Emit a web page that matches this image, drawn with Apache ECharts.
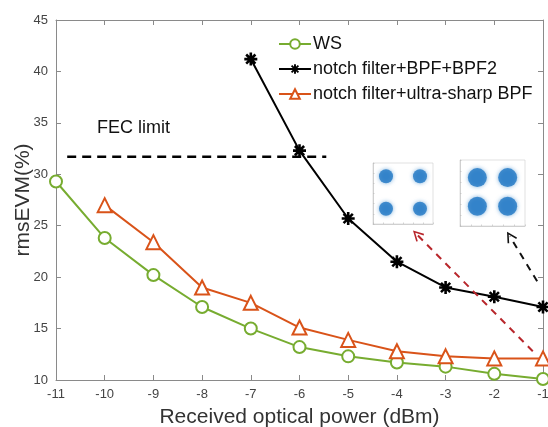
<!DOCTYPE html>
<html>
<head>
<meta charset="utf-8">
<script src="https://cdn.jsdelivr.net/npm/echarts@6/dist/echarts.min.js"></script>
<style>
  html, body { margin: 0; padding: 0; background: #fff; }
  #chart { width: 548px; height: 427px; }
</style>
</head>
<body>
<div id="chart"></div>
<script>
// Received optical power (dBm)
const powerWS = [-11, -10, -9, -8, -7, -6, -5, -4, -3, -2, -1];
const evmWS = [29.3, 23.8, 20.2, 17.1, 15.0, 13.2, 12.3, 11.7, 11.3, 10.6, 10.1];

const powerNotch = [-7, -6, -5, -4, -3, -2, -1];
const evmNotch = [41.2, 32.3, 25.7, 21.5, 19.0, 18.1, 17.1];

const powerSharp = [-10, -9, -8, -7, -6, -5, -4, -3, -2, -1];
const evmSharp = [27.0, 23.4, 19.0, 17.5, 15.1, 13.9, 12.8, 12.3, 12.1, 12.1];

const seriesNames = ['WS', 'notch filter+BPF+BPF2', 'notch filter+ultra-sharp BPF'];

// FEC threshold and the span over which it is drawn
const fecLimit = 31.7;
const fecSpan = [-10.77, -5.45];

// arrows pointing from the -1 dBm points to their constellations
const arrowRed = [[-1.21, 12.8], [-3.59, 24.15]];
const arrowBlack = [[-1.12, 19.6], [-1.68, 23.96]];

// constellation symbols (normalised I/Q)
const constA = [[-0.85, 0.85], [0.85, 0.85], [-0.85, -0.75], [0.85, -0.75]];
const constB = [[-0.7, 0.7], [0.7, 0.7], [-0.7, -0.6], [0.7, -0.6]];

const pair = (xs, ys) => xs.map((x, i) => [x, ys[i]]);

const FONT = 'Liberation Sans, Arial, sans-serif';
const AXIS_COLOR = '#8a8a8a';
const GREEN = '#77AC30';
const ORANGE = '#D95319';

const asterisk = 'path://M-100,-20 L100,-20 L100,20 L-100,20 Z ' +
  'M-20,-100 L20,-100 L20,100 L-20,100 Z ' +
  'M-85,-57 L-57,-85 L85,57 L57,85 Z ' +
  'M57,-85 L85,-57 L-57,85 L-85,57 Z';
const chevron = 'path://M0,0 L12,22 L9,24 L0,7 L-9,24 L-12,22 Z';

const mainAxisCommon = {
  axisLine: { show: true, lineStyle: { color: AXIS_COLOR, width: 1 } },
  axisTick: { show: true, inside: true, length: 5, lineStyle: { color: AXIS_COLOR } },
  splitLine: { show: false }
};

const insetAxis = (gi) => ({
  gridIndex: gi, min: -1.5, max: 1.5, interval: 0.5,
  axisLine: { show: true, onZero: false, lineStyle: { color: '#bbb', width: 0.6 } },
  axisTick: { show: true, inside: true, length: 1.5, lineStyle: { color: '#bbb', width: 0.6 } },
  axisLabel: { show: false }, splitLine: { show: false }
});

const chart = echarts.init(document.getElementById('chart'), null, { renderer: 'canvas' });

chart.setOption({
  backgroundColor: '#fff',
  animation: false,
  grid: [
    { left: 56, right: 5, top: 20, bottom: 47, outerBoundsMode: 'none', containLabel: false },
    { left: 373, top: 163, width: 60, height: 61, show: true, borderColor: '#ccc', borderWidth: 0.6, backgroundColor: '#fff', outerBoundsMode: 'none' },
    { left: 460, top: 160, width: 65, height: 66, show: true, borderColor: '#ccc', borderWidth: 0.6, backgroundColor: '#fff', outerBoundsMode: 'none' }
  ],
  legend: {
    orient: 'vertical',
    left: 273, top: 30,
    itemWidth: 32, itemHeight: 12, itemGap: 7,
    data: seriesNames,
    textStyle: { fontFamily: FONT, fontSize: 18, color: '#111', padding: [0, 0, 0, -3] }
  },
  xAxis: [
    Object.assign({
      type: 'value', gridIndex: 0, min: -11, max: -1, interval: 1, position: 'bottom',
      name: 'Received optical power (dBm)', nameLocation: 'middle', nameGap: 27,
      nameMoveOverlap: false,
      nameTextStyle: { fontFamily: FONT, fontSize: 21, color: '#333' },
      axisLabel: { fontFamily: FONT, fontSize: 13, color: '#444', margin: 8 }
    }, mainAxisCommon),
    Object.assign({
      type: 'value', gridIndex: 0, min: -11, max: -1, interval: 1, position: 'top',
      axisLabel: { show: false }
    }, mainAxisCommon),
    insetAxis(1), insetAxis(2)
  ],
  yAxis: [
    Object.assign({
      type: 'value', gridIndex: 0, min: 10, max: 45, interval: 5, position: 'left',
      name: 'rmsEVM(%)', nameLocation: 'middle', nameGap: 22,
      nameMoveOverlap: false,
      nameTextStyle: { fontFamily: FONT, fontSize: 21, color: '#333' },
      axisLabel: { fontFamily: FONT, fontSize: 13, color: '#444', margin: 8 }
    }, mainAxisCommon),
    Object.assign({
      type: 'value', gridIndex: 0, min: 10, max: 45, interval: 5, position: 'right',
      axisLabel: { show: false }
    }, mainAxisCommon),
    insetAxis(1), insetAxis(2)
  ],
  graphic: [
    {
      type: 'text', left: 97, top: 119,
      style: { text: 'FEC limit', font: '18px ' + FONT, fill: '#111' }
    }
  ],
  series: [
    {
      name: 'FEC', type: 'line', xAxisIndex: 0, yAxisIndex: 0,
      data: fecSpan.map(x => [x, fecLimit]),
      showSymbol: false, silent: true,
      lineStyle: { color: '#000', width: 2.5, type: [9, 6] }
    },
    {
      name: seriesNames[0], type: 'line', xAxisIndex: 0, yAxisIndex: 0,
      data: pair(powerWS, evmWS),
      symbol: 'circle', symbolSize: 12, showAllSymbol: true,
      color: GREEN,
      lineStyle: { color: GREEN, width: 2 },
      itemStyle: { color: '#fff', borderColor: GREEN, borderWidth: 2 },
      z: 3
    },
    {
      name: seriesNames[1], type: 'line', xAxisIndex: 0, yAxisIndex: 0,
      data: pair(powerNotch, evmNotch),
      symbol: asterisk, symbolSize: 13, showAllSymbol: true,
      color: '#000',
      lineStyle: { color: '#000', width: 2 },
      itemStyle: { color: '#000' },
      z: 4
    },
    {
      name: seriesNames[2], type: 'line', xAxisIndex: 0, yAxisIndex: 0,
      data: pair(powerSharp, evmSharp),
      symbol: 'triangle', symbolSize: 14, showAllSymbol: true,
      color: ORANGE,
      lineStyle: { color: ORANGE, width: 2 },
      itemStyle: { color: '#fff', borderColor: ORANGE, borderWidth: 2 },
      z: 3
    },
    {
      name: 'arrows', type: 'line', xAxisIndex: 0, yAxisIndex: 0,
      data: [], silent: true,
      markLine: {
        silent: true, animation: false,
        symbol: ['none', chevron], symbolSize: [11, 11],
        label: { show: false },
        data: [
          [{ coord: arrowRed[0], lineStyle: { color: '#B8262B', width: 2, type: [7, 6] } },
           { coord: arrowRed[1] }],
          [{ coord: arrowBlack[0], lineStyle: { color: '#111', width: 2, type: [7, 6] } },
           { coord: arrowBlack[1] }]
        ]
      }
    },
    {
      name: 'constA', type: 'scatter', xAxisIndex: 2, yAxisIndex: 2,
      data: constA, symbolSize: 14, silent: true,
      itemStyle: { color: '#1F77C4', shadowColor: 'rgba(31,119,196,0.7)', shadowBlur: 4 }
    },
    {
      name: 'constB', type: 'scatter', xAxisIndex: 3, yAxisIndex: 3,
      data: constB, symbolSize: 19, silent: true,
      itemStyle: { color: '#1F77C4', shadowColor: 'rgba(31,119,196,0.7)', shadowBlur: 4 }
    }
  ]
});
</script>
</body>
</html>
